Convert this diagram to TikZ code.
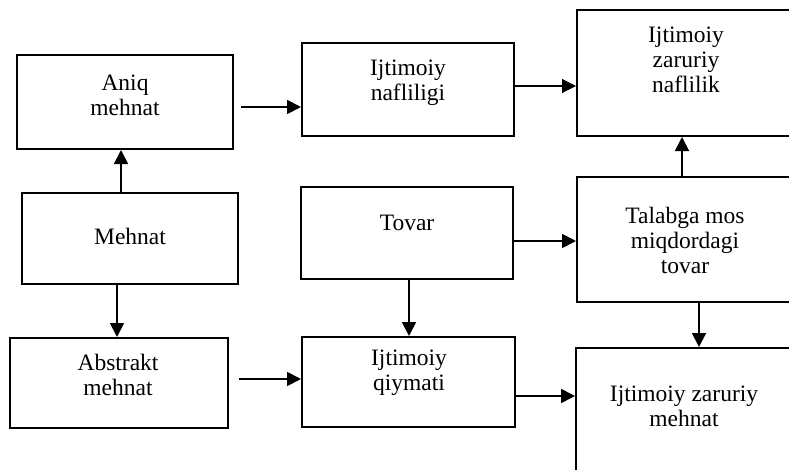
\documentclass[tikz,border=0pt]{standalone}
\usepackage{fontspec}
\setmainfont{Liberation Serif}
\usetikzlibrary{arrows.meta}
\tikzset{
  box/.style={draw=black, line width=2pt, rectangle, inner sep=0pt},
  txt/.style={align=center, inner sep=0pt, font=\fontsize{23.5}{25}\selectfont},
  arr/.style={line width=1.8pt, -{Triangle[length=14pt,width=14pt]}},
  thinarr/.style={line width=1.1pt, -{Triangle[length=14pt,width=14pt]}}
}
\begin{document}
\begin{tikzpicture}[x=1pt,y=-1pt]
\fill[white] (0,0) rectangle (789,469);
\useasboundingbox (0,0) rectangle (789,469);
\clip (0,0) rectangle (789,469);
% boxes
\node[box, minimum width=216pt, minimum height=94pt] (aniq) at (125,102) {};
\node[box, minimum width=216pt, minimum height=91pt] (mehnat) at (130,238.5) {};
\node[box, minimum width=218pt, minimum height=90pt] (abstrakt) at (119,383) {};
\node[box, minimum width=212pt, minimum height=93pt] (nafl) at (408,89.5) {};
\node[box, minimum width=212pt, minimum height=92pt] (tovar) at (407,233) {};
\node[box, minimum width=213pt, minimum height=90pt] (qiymat) at (408.5,382) {};
\node[box, minimum width=225pt, minimum height=126pt] (naflilik) at (689.5,73) {};
\node[box, minimum width=225pt, minimum height=125pt] (talab) at (689.5,239.5) {};
\node[box, minimum width=226pt, minimum height=134pt] (zmehnat) at (689,415) {};
% texts
\node[txt] (taniq) at (125,95) {Aniq\\mehnat};
\node[txt] (tmehnat) at (130,236) {Mehnat};
\node[txt] (tabstrakt) at (118,375) {Abstrakt\\mehnat};
\node[txt] (tnafl) at (408,83) {Ijtimoiy\\nafliligi};
\node[txt] (ttovar) at (407,223) {Tovar};
\node[txt] (tqiymat) at (409,373) {Ijtimoiy\\qiymati};
\node[txt] (tnaflilik) at (686,60) {Ijtimoiy\\zaruriy\\naflilik};
\node[txt] (ttalab) at (685,240) {Talabga mos\\miqdordagi\\tovar};
\node[txt] (tzmehnat) at (684,406) {Ijtimoiy zaruriy\\mehnat};
% connectors
\draw[arr] (mehnat.north -| 121,0) -- (aniq.south -| 121,0);
\draw[arr] (mehnat.south -| 117,0) -- (abstrakt.north -| 117,0);
\draw[arr] ([xshift=7pt]aniq.east |- 0,107) -- (nafl.west |- 0,107);
\draw[arr] ([xshift=10pt]abstrakt.east |- 0,379) -- (qiymat.west |- 0,379);
\draw[thinarr] (nafl.east |- 0,86) -- (naflilik.west |- 0,86);
\draw[arr] (talab.north -| 682,0) -- (naflilik.south -| 682,0);
\draw[arr] (tovar.east |- 0,241) -- (talab.west |- 0,241);
\draw[arr] (tovar.south -| 409,0) -- (qiymat.north -| 409,0);
\draw[arr] (qiymat.east |- 0,396) -- (zmehnat.west |- 0,396);
\draw[arr] (talab.south -| 699,0) -- (zmehnat.north -| 699,0);
\end{tikzpicture}
\end{document}
